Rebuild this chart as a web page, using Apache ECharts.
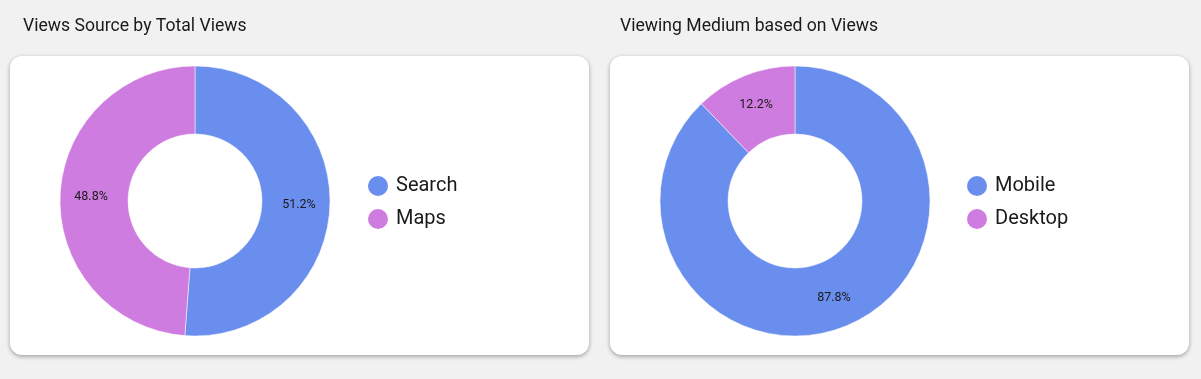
<!DOCTYPE html>
<html><head><meta charset="utf-8">
<script src="https://cdn.jsdelivr.net/npm/echarts@6/dist/echarts.min.js"></script>
<style>html,body{margin:0;padding:0;background:#f1f1f1;}#c{width:1201px;height:379px;}</style>
</head><body><div id="c"></div>
<script>
const titles = ['Views Source by Total Views', 'Viewing Medium based on Views'];
const sourceCategories = ['Search', 'Maps'];
const sourceValues = [51.2, 48.8];
const mediumCategories = ['Mobile', 'Desktop'];
const mediumValues = [87.8, 12.2];
const colors = ['#6a8eee', '#cf7ce0'];

const chart = echarts.init(document.getElementById('c'), null, {renderer: 'canvas'});
const font = 'Roboto, "Noto Sans", sans-serif';
function card(x) {
  return {type: 'rect', shape: {x: x, y: 56, width: 579, height: 299, r: 12},
    style: {fill: '#ffffff', shadowBlur: 4, shadowOffsetY: 1.5, shadowColor: 'rgba(0,0,0,0.35)'}, z: -10};
}
function pie(center, cats, vals) {
  return {type: 'pie', center: center, radius: [67, 135], startAngle: 90, clockwise: true,
    avoidLabelOverlap: false, silent: true,
    itemStyle: {borderColor: '#ffffff', borderWidth: 0.5},
    label: {show: true, position: 'inside', color: '#1a1a1a', fontSize: 12.5, fontFamily: font,
      formatter: p => p.value.toFixed(1) + '%'},
    labelLine: {show: false},
    data: cats.map((c, i) => ({name: c, value: vals[i], itemStyle: {color: colors[i]}}))};
}
function legend(left, cats) {
  return {orient: 'vertical', left: left, top: 176, padding: 0, itemWidth: 20, itemHeight: 20, itemGap: 13,
    icon: 'circle', itemStyle: {borderWidth: 0},
    data: cats, textStyle: {fontSize: 20, color: '#1a1a1a', fontFamily: font, padding: [0, 0, 0, 3]}};
}
chart.setOption({
  animation: false,
  title: [
    {text: titles[0], left: 18, top: 13, textStyle: {fontSize: 17.6, fontWeight: 'normal', color: '#1a1a1a', fontFamily: font}},
    {text: titles[1], left: 615, top: 13, textStyle: {fontSize: 17.6, fontWeight: 'normal', color: '#1a1a1a', fontFamily: font}}
  ],
  graphic: [card(10), card(610)],
  legend: [legend(368, sourceCategories), legend(967, mediumCategories)],
  series: [pie([195, 201], sourceCategories, sourceValues), pie([795, 201], mediumCategories, mediumValues)]
});
</script></body></html>
